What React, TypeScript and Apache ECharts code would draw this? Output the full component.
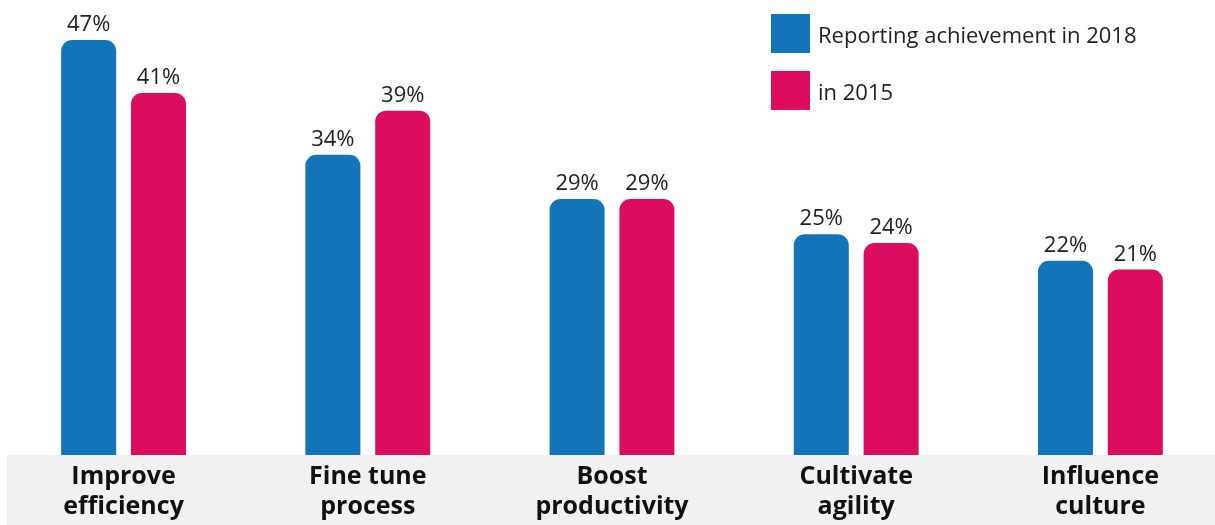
import React, { useEffect, useRef } from "react";
import * as echarts from "echarts";

const categories = ["Improve\nefficiency", "Fine tune\nprocess", "Boost\nproductivity", "Cultivate\nagility", "Influence\nculture"];
const series2018 = [47, 34, 29, 25, 22];
const series2015 = [41, 39, 29, 24, 21];
const seriesNames = ["Reporting achievement in 2018", "in 2015"];

export default function App() {
  const ref = useRef<HTMLDivElement>(null);
  useEffect(() => {
    document.body.style.margin = "0";
    const chart = echarts.init(ref.current!, null, { renderer: "svg" });
    const font = "'Open Sans', 'Noto Sans', sans-serif";
    const label = {
      show: true,
      position: "top",
      distance: 7,
      formatter: "{c}%",
      fontSize: 22,
      fontFamily: font,
      color: "#222",
    };
    chart.setOption({
      animation: false,
      grid: { left: 1.5, width: 1221, top: 13.5, bottom: 70, containLabel: false, outerBoundsMode: "none" },
      graphic: [
        {
          type: "rect",
          z: -10,
          shape: { x: 7, y: 455, width: 1208, height: 70 },
          style: { fill: "#f1f1f1" },
        },
      ],
      legend: {
        orient: "vertical",
        left: 766,
        top: 9,
        itemWidth: 39,
        itemHeight: 39,
        itemGap: 18,
        icon: "rect",
        textStyle: { fontSize: 22, fontFamily: font, color: "#222", padding: [0, 0, 0, 3] },
        data: seriesNames,
      },
      xAxis: {
        type: "category",
        data: categories,
        z: 5,
        axisLine: { show: false },
        axisTick: { show: false },
        axisLabel: {
          margin: 4,
          fontSize: 25,
          fontWeight: "bold",
          fontFamily: font,
          color: "#111",
          lineHeight: 30,
        },
      },
      yAxis: {
        type: "value",
        min: 0,
        max: 50,
        show: false,
        splitLine: { show: false },
      },
      series: [
        {
          name: seriesNames[0],
          type: "bar",
          data: series2018,
          barWidth: 55,
          barGap: "27%",
          itemStyle: { color: "#1374BA", borderRadius: [11, 11, 0, 0] },
          label,
        },
        {
          name: seriesNames[1],
          type: "bar",
          data: series2015,
          barWidth: 55,
          barGap: "27%",
          itemStyle: { color: "#DC0C5E", borderRadius: [11, 11, 0, 0] },
          label,
        },
      ],
    });
    return () => chart.dispose();
  }, []);
  return <div ref={ref} style={{ position: "fixed", left: 0, top: 0, width: 1215, height: 525 }} />;
}
